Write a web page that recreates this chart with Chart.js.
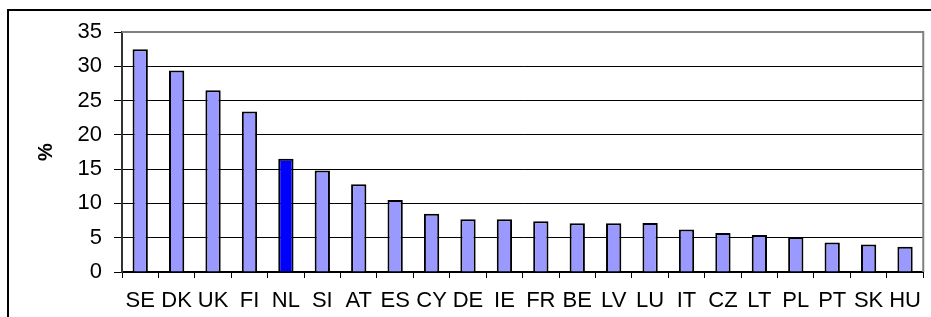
<!DOCTYPE html>
<html>
<head>
<meta charset="utf-8">
<script src="https://cdn.jsdelivr.net/npm/chart.js@4"></script>
<style>
    body { margin: 0; background: #fff; overflow: hidden; }
    #wrap { position: relative; width: 931px; height: 317px; }
    #frame { position: absolute; left: 7px; top: 9px; width: 960px; height: 400px; border-left: 2px solid #000; border-top: 2px solid #000; }
    #grafico { position: absolute; left: 0; top: 0; }
</style>
</head>
<body>
<div id="wrap">
    <div id="frame"></div>
    <canvas id="grafico" width="931" height="317"></canvas>
</div>
<script>
// Dados
const paises = ['SE', 'DK', 'UK', 'FI', 'NL', 'SI', 'AT', 'ES', 'CY', 'DE', 'IE', 'FR', 'BE', 'LV', 'LU', 'IT', 'CZ', 'LT', 'PL', 'PT', 'SK', 'HU'];
const valores = [32.5, 29.4, 26.5, 23.4, 16.5, 14.8, 12.8, 10.5, 8.5, 7.7, 7.7, 7.4, 7.1, 7.1, 7.15, 6.2, 5.7, 5.4, 5.1, 4.3, 4.0, 3.7];
const destaque = 'NL';
const yTicks = [0, 5, 10, 15, 20, 25, 30, 35];

const corBarra = '#9999FF';
const corDestaque = '#0000FF';
const fonte = "'Liberation Sans', Arial, sans-serif";

// moldura cinza (topo e direita) da área do gráfico
const moldura = {
    id: 'moldura',
    afterDraw(chart) {
        const { ctx, chartArea: a } = chart;
        ctx.save();
        ctx.strokeStyle = '#808080';
        ctx.lineWidth = 2;
        ctx.beginPath();
        ctx.moveTo(a.left, a.top);
        ctx.lineTo(a.right, a.top);
        ctx.lineTo(a.right, a.bottom);
        ctx.stroke();
        ctx.restore();
    }
};

const ctx = document.getElementById('grafico').getContext('2d');
new Chart(ctx, {
    type: 'bar',
    data: {
        labels: paises,
        datasets: [{
            data: valores,
            backgroundColor: paises.map(p => p === destaque ? corDestaque : corBarra),
            borderColor: '#000',
            borderWidth: 2,
            borderSkipped: 'bottom',
            barPercentage: 0.42,
            categoryPercentage: 1
        }]
    },
    options: {
        responsive: false,
        animation: false,
        layout: { padding: { top: 32, right: 3, left: 0, bottom: 0 } },
        plugins: { legend: { display: false }, tooltip: { enabled: false } },
        scales: {
            x: {
                afterFit: (s) => { s.height = 45; },
                grid: { drawOnChartArea: false, tickLength: 6, color: '#000', lineWidth: 1 },
                border: { color: '#000', width: 2 },
                ticks: { color: '#000', padding: 10, maxRotation: 0, autoSkip: false, font: { family: fonte, size: 22 } }
            },
            y: {
                min: 0,
                max: 35,
                afterFit: (s) => { s.width = 122; },
                afterBuildTicks: (s) => { s.ticks = yTicks.map(v => ({ value: v })); },
                grid: {
                    color: (c) => c.tick && c.tick.value === 35 ? '#808080' : '#000',
                    tickColor: '#000',
                    tickLength: 8,
                    lineWidth: 1
                },
                border: { color: '#333', width: 2 },
                ticks: { color: '#000', padding: 12, font: { family: fonte, size: 22 } },
                title: {
                    display: true,
                    text: '%',
                    color: '#000',
                    padding: { top: 34, bottom: 0 },
                    font: { family: fonte, size: 20, weight: 'bold' }
                }
            }
        }
    },
    plugins: [moldura]
});
</script>
</body>
</html>
